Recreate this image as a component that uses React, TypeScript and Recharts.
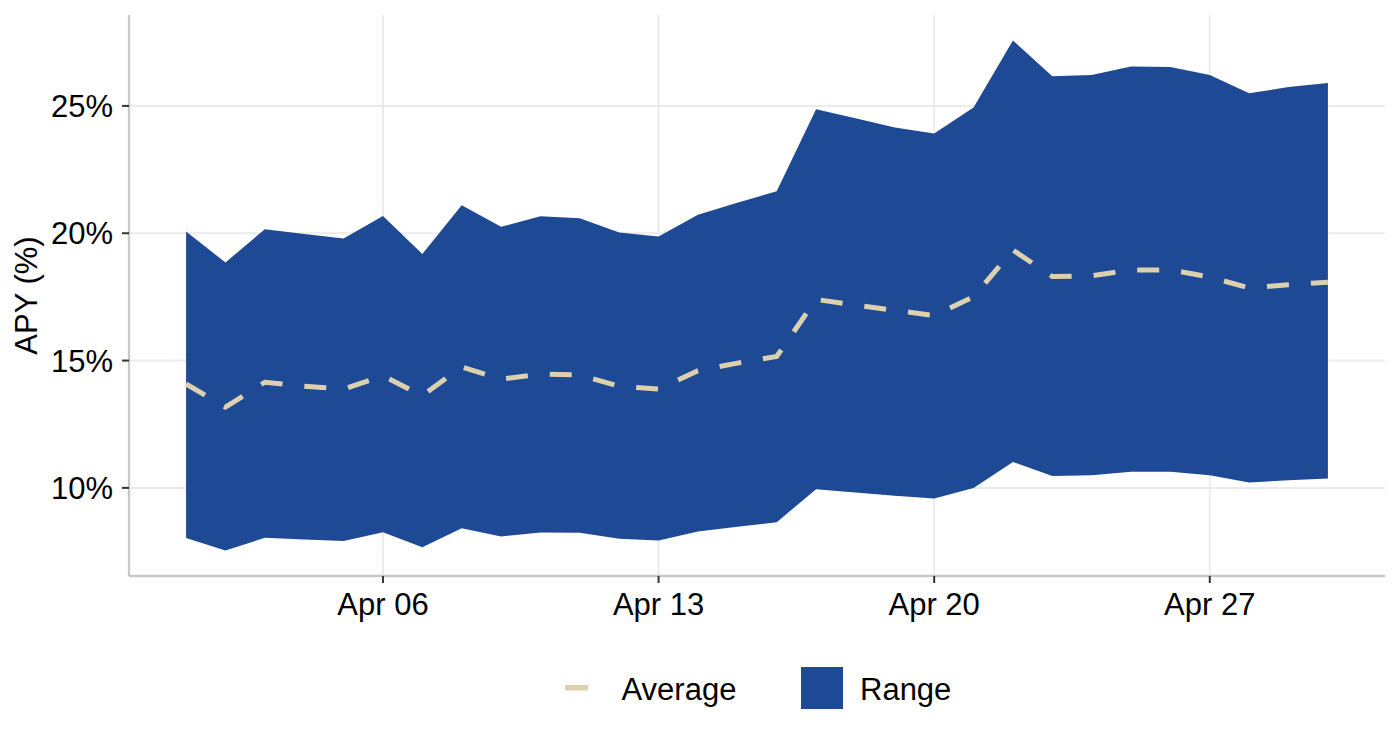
import React from 'react';
import { ComposedChart, Area, Line, XAxis, YAxis, CartesianGrid, Legend } from 'recharts';

const days = [1, 2, 3, 4, 5, 6, 7, 8, 9, 10, 11, 12, 13, 14, 15, 16, 17, 18, 19, 20, 21, 22, 23, 24, 25, 26, 27, 28, 29, 30];
const lowApy = [8.03, 7.54, 8.04, 7.97, 7.91, 8.26, 7.67, 8.42, 8.09, 8.25, 8.24, 8.0, 7.93, 8.29, 8.47, 8.65, 9.95, 9.82, 9.69, 9.58, 10.0, 11.02, 10.47, 10.5, 10.63, 10.63, 10.5, 10.21, 10.3, 10.37];
const highApy = [20.07, 18.85, 20.16, 19.97, 19.79, 20.68, 19.18, 21.1, 20.25, 20.67, 20.59, 20.03, 19.87, 20.73, 21.2, 21.65, 24.87, 24.52, 24.15, 23.92, 24.94, 27.57, 26.16, 26.21, 26.55, 26.53, 26.21, 25.5, 25.74, 25.9];
const avgApy = [14.08, 13.17, 14.15, 13.99, 13.88, 14.4, 13.62, 14.75, 14.27, 14.47, 14.43, 13.99, 13.88, 14.6, 14.9, 15.16, 17.4, 17.18, 16.97, 16.77, 17.5, 19.34, 18.3, 18.33, 18.56, 18.56, 18.28, 17.85, 17.98, 18.08];
const xTicks = [6, 13, 20, 27];
const yTicks = [10, 15, 20, 25];
const monthLabel = 'Apr';
const legendLabels = ['Average', 'Range'];
const yTitle = 'APY (%)';

const X_DOMAIN: [number, number] = [-0.45, 31.45];
const Y_DOMAIN: [number, number] = [6.54, 28.57];

const BLUE = '#1D4995';
const BEIGE = '#DDD0AE';
const FONT = '"Liberation Sans", Arial, Helvetica, sans-serif';

const data = days.map((d, i) => ({
  day: d,
  range: [lowApy[i], highApy[i]],
  avg: avgApy[i],
}));

const renderLegend = () => (
  <svg width={1392} height={60} style={{ display: 'block' }}>
    <line x1={557} x2={580} y1={29.7} y2={29.7} stroke={BEIGE} strokeWidth={5.5} />
    <text x={613.5} y={42} fontSize={31} fontFamily={FONT} fill="#000">{legendLabels[0]}</text>
    <rect x={793} y={9} width={42} height={42} fill={BLUE} />
    <text x={852} y={42} fontSize={31} fontFamily={FONT} fill="#000">{legendLabels[1]}</text>
  </svg>
);

const renderYTitle = (props: any) => {
  const vb = props.viewBox || { x: 0, y: 0, width: 0, height: 0 };
  const cx = 28.7;
  const cy = vb.y + vb.height / 2;
  return (
    <text
      x={cx}
      y={cy}
      transform={`rotate(-90, ${cx}, ${cy})`}
      textAnchor="middle"
      fontSize={31}
      fontFamily={FONT}
      fill="#000"
    >
      {yTitle}
    </text>
  );
};

const hCoords = (p: any) => {
  const ax = p && p.yAxis;
  if (ax && typeof ax.scale === 'function') return yTicks.map((t) => ax.scale(t));
  const { top, height } = p.offset;
  return yTicks.map((t) => top + ((Y_DOMAIN[1] - t) / (Y_DOMAIN[1] - Y_DOMAIN[0])) * height);
};

const vCoords = (p: any) => {
  const ax = p && p.xAxis;
  if (ax && typeof ax.scale === 'function') return xTicks.map((t) => ax.scale(t));
  const { left, width } = p.offset;
  return xTicks.map((t) => left + ((t - X_DOMAIN[0]) / (X_DOMAIN[1] - X_DOMAIN[0])) * width);
};

export default function App() {
  return (
    <ComposedChart
      width={1392}
      height={732}
      data={data}
      margin={{ top: 7, right: 15, bottom: 34, left: 0 }}
      style={{ fontFamily: FONT }}
    >
      <CartesianGrid
        stroke="#EBEBEB"
        strokeWidth={2}
        horizontalCoordinatesGenerator={hCoords}
        verticalCoordinatesGenerator={vCoords}
      />
      <XAxis
        dataKey="day"
        type="number"
        domain={X_DOMAIN}
        ticks={xTicks}
        allowDataOverflow
        height={70}
        tickFormatter={(d: number) => `${monthLabel} ${String(d).padStart(2, '0')}`}
        tick={{ fill: '#000', fontSize: 31, fontFamily: FONT }}
        tickSize={7}
        tickMargin={9.7}
        tickLine={{ stroke: '#333', strokeWidth: 2 }}
        axisLine={{ stroke: '#C8C8C8', strokeWidth: 2.3 }}
      />
      <YAxis
        type="number"
        domain={Y_DOMAIN}
        ticks={yTicks}
        allowDataOverflow
        width={121}
        tickFormatter={(v: number) => `${v}%`}
        tick={{ fill: '#000', fontSize: 31, fontFamily: FONT }}
        tickSize={7}
        tickMargin={9}
        tickLine={{ stroke: '#333', strokeWidth: 2 }}
        axisLine={{ stroke: '#C8C8C8', strokeWidth: 2.3 }}
        label={{ content: renderYTitle }}
      />
      <Legend
        verticalAlign="bottom"
        content={renderLegend}
        wrapperStyle={{ left: 0, top: 650, width: 1392, height: 60 }}
      />
      <Area
        type="linear"
        dataKey="range"
        fill={BLUE}
        fillOpacity={1}
        stroke="none"
        isAnimationActive={false}
        legendType="square"
        name={legendLabels[1]}
      />
      <Line
        type="linear"
        dataKey="avg"
        stroke={BEIGE}
        strokeWidth={5}
        strokeDasharray="22 22"
        dot={false}
        activeDot={false}
        isAnimationActive={false}
        name={legendLabels[0]}
      />
    </ComposedChart>
  );
}
